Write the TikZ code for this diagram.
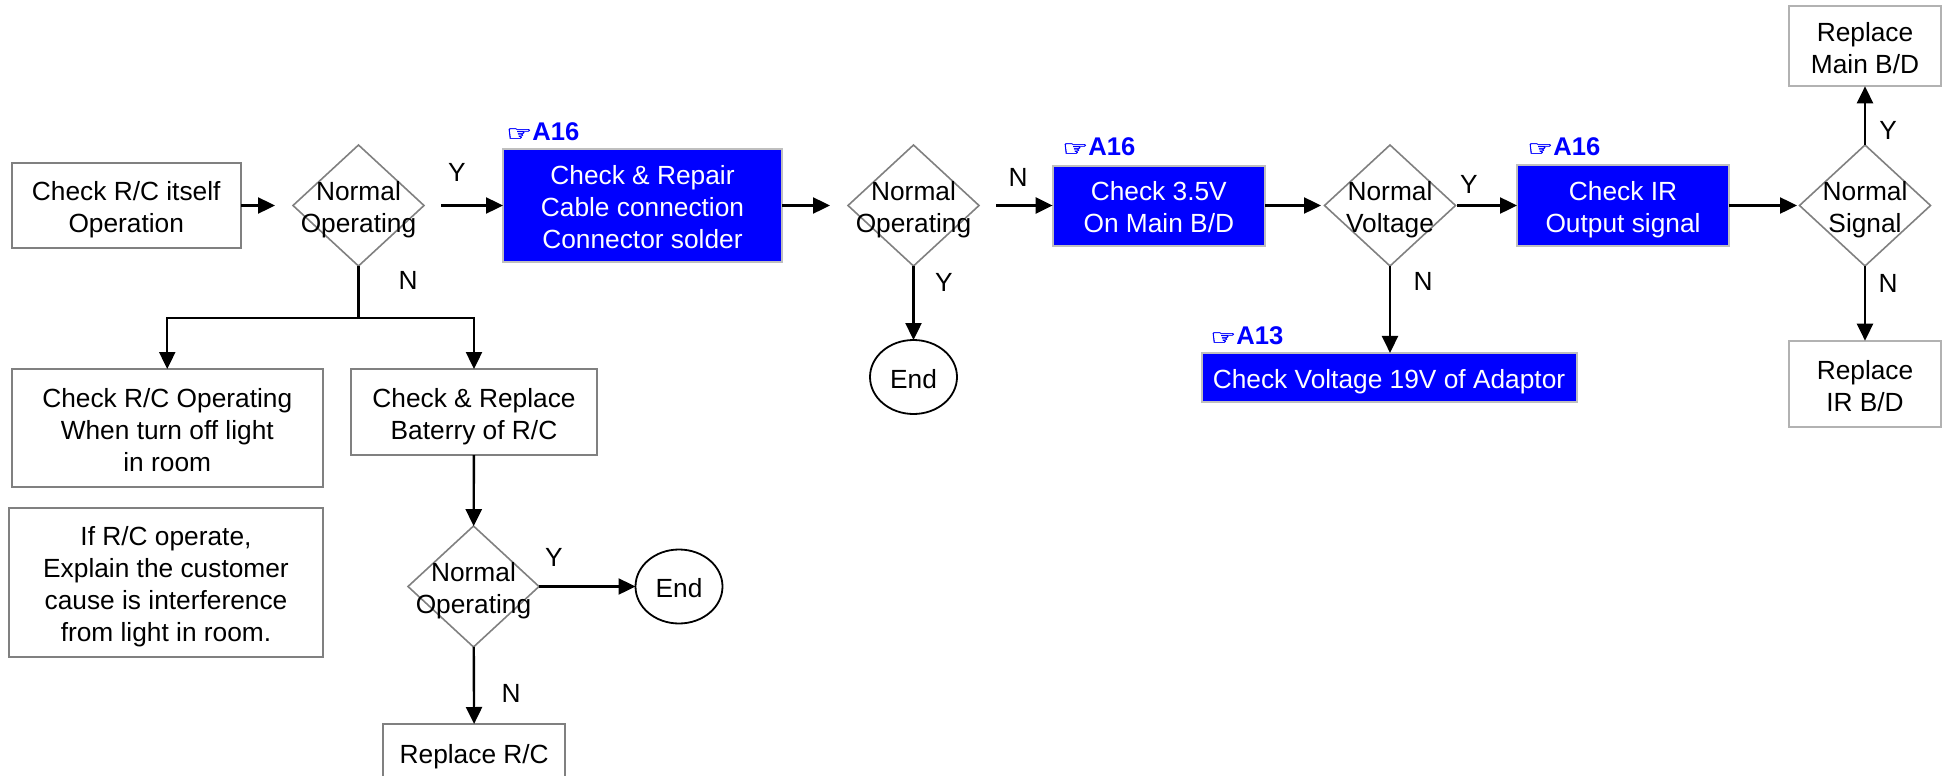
\documentclass[tikz,border=0pt]{standalone}
\usepackage{fontspec}
\setmainfont{Liberation Sans}
\newfontfamily\handfont[FakeBold=1.5]{DejaVu Sans}
\usetikzlibrary{arrows.meta,shapes.geometric}
\definecolor{refblue}{RGB}{0,0,255}
\newcommand{\refhand}{\scalebox{1}[0.75]{\handfont\fontsize{14.5}{14.5}\selectfont ☞}}
\tikzset{
	boxsize/.style 2 args={minimum width=#1*0.5pt, minimum height=#2*0.5pt},
	chartnode/.style={inner sep=0pt, outer sep=0pt, align=center, text height=14pt, text depth=2.6pt, font=\fontsize{13.15}{16}\selectfont},
	twolines/.style={text height=30pt},
	threelines/.style={text height=46pt},
	fourlines/.style={text height=62pt},
	checkbox/.style={chartnode, draw=gray, line width=1pt, rectangle},
	partbox/.style={chartnode, draw=gray!60, line width=1pt, rectangle},
	bluebox/.style={chartnode, draw=gray!50, line width=1pt, rectangle, fill=refblue, text=white},
	decision/.style={chartnode, draw=gray, line width=0.8pt, diamond, boxsize={131}{121}},
	dectext/.style={chartnode, twolines},
	endnode/.style={chartnode, draw=black, line width=0.9pt, ellipse, boxsize={87}{74}},
	flow/.style={line width=1.2pt, -{Triangle[length=8.5pt,width=8pt]}},
	flowline/.style={line width=1.2pt},
	answer/.style={inner sep=0pt, font=\fontsize{13.15}{16}\selectfont},
	pageref/.style={anchor=west, inner sep=0pt, text=refblue, font=\fontsize{12.8}{15}\selectfont\bfseries}
}
\begin{document}
\begin{tikzpicture}[x=0.5pt,y=-0.5pt]
	\clip (0,0) rectangle (1949,776);
	% top row
	\node[checkbox, twolines, boxsize={229.5}{85}] (itself) at (126.25,205.5) {Check R/C itself\\Operation};
	\node[decision, label={[dectext]center:{Normal\\Operating}}] (dec1) at (358.5,205.5) {};
	\node[bluebox, threelines, boxsize={279}{113}] (repair) at (642.5,205.5) {Check \& Repair\\Cable connection\\Connector solder};
	\node[decision, label={[dectext]center:{Normal\\Operating}}] (dec2) at (913.5,205.5) {};
	\node[bluebox, twolines, boxsize={212.4}{80}] (volt) at (1158.8,205.5) {Check 3.5V\\On Main B/D};
	\node[decision, label={[dectext]center:{Normal\\Voltage}}] (dec3) at (1390,205.5) {};
	\node[bluebox, twolines, boxsize={212}{81.5}] (irout) at (1623,205.5) {Check IR\\Output signal};
	\node[decision, label={[dectext]center:{Normal\\Signal}}] (dec4) at (1865,205.5) {};
	\node[partbox, twolines, boxsize={151.7}{80.6}] (repmain) at (1865,46) {Replace\\Main B/D};
	\node[partbox, twolines, boxsize={152.6}{86}] (repir) at (1865,383.7) {Replace\\IR B/D};
	\node[endnode] (end2) at (913.5,377) {End};
	\node[bluebox, boxsize={375}{48.7}] (adaptor) at (1389,377.3) {Check Voltage 19V of Adaptor};
	% left branch
	\node[checkbox, threelines, boxsize={311.5}{118}] (light) at (167.25,428) {Check R/C Operating\\When turn off light\\in room};
	\node[checkbox, twolines, boxsize={246}{86}] (battery) at (474,412) {Check \& Replace\\Baterry of R/C};
	\node[checkbox, fourlines, boxsize={314}{149}] (explain) at (166,582.5) {If R/C operate,\\Explain the customer\\cause is interference\\from light in room.};
	\node[decision, label={[dectext]center:{Normal\\Operating}}] (dec5) at (473.5,586.5) {};
	\node[endnode] (end1) at (679,586.5) {End};
	\node[checkbox, boxsize={181.6}{56}] (reprc) at (474.2,752) {Replace R/C};
	% page references
	\node[pageref] (ref1) at (506,132) {\refhand A16};
	\node[pageref] (ref2) at (1062,147) {\refhand A16};
	\node[pageref] (ref3) at (1527,147) {\refhand A16};
	\node[pageref] (ref4) at (1210,336) {\refhand A13};
	% free arrow ends
	\coordinate (in1) at (275,205.5);
	\coordinate (out1) at (441,205.5);
	\coordinate (in2) at (830,205.5);
	\coordinate (out2) at (996,205.5);
	\coordinate (in3) at (1321,205.5);
	\coordinate (out3) at (1457,205.5);
	\coordinate (in4) at (1797,205.5);
	\coordinate (fork) at (358.5,318);
	% connectors
	\draw[flow] (itself) -- (in1);
	\draw[flow] (out1) -- (repair);
	\draw[flow] (repair) -- (in2);
	\draw[flow] (out2) -- (volt);
	\draw[flow] (volt) -- (in3);
	\draw[flow] (out3) -- (irout);
	\draw[flow] (irout) -- (in4);
	\draw[flow] (dec4) -- (repmain);
	\draw[flow] (dec4) -- (repir);
	\draw[flow] (dec2) -- (end2);
	\draw[flow] (dec3.south) -- (dec3.south |- adaptor.north);
	\draw[flowline] (dec1) -- (fork);
	\draw[flow] (fork) -| (light.north);
	\draw[flow] (fork) -| (battery.north);
	\draw[flow] (battery) -- (dec5);
	\draw[flow] (dec5) -- (end1);
	\draw[flow] (dec5) -- (reprc);
	% answers
	\node[answer] (ansa) at (457,172) {Y};
	\node[answer] (ansb) at (408,280) {N};
	\node[answer] (ansc) at (1018,177) {N};
	\node[answer] (ansd) at (944,282) {Y};
	\node[answer] (anse) at (1469,184) {Y};
	\node[answer] (ansf) at (1423,281) {N};
	\node[answer] (ansg) at (1888,130) {Y};
	\node[answer] (ansh) at (1888,283) {N};
	\node[answer] (ansi) at (554,557) {Y};
	\node[answer] (ansj) at (511,693) {N};
\end{tikzpicture}
\end{document}
